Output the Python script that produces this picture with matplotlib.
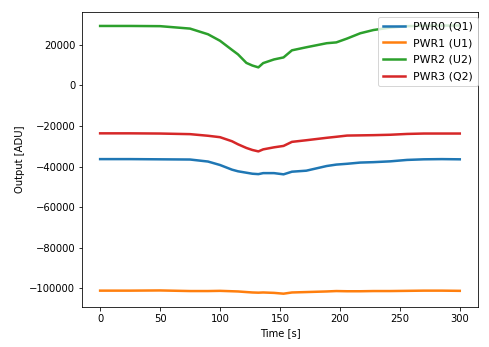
import matplotlib
matplotlib.use("Agg")
import matplotlib.pyplot as plt

# Sample times [s] and detector outputs [ADU]
time_s = [0, 25, 50, 75, 90, 100, 110, 115, 122, 127, 132, 136, 145, 153,
          160, 172, 189, 197, 206, 217, 228, 242, 256, 270, 285, 300]

pwr0_q1 = [-36300, -36300, -36400, -36500, -37500, -39200, -41500, -42300,
           -43000, -43500, -43700, -43200, -43200, -43800, -42500, -42000,
           -39700, -39000, -38600, -38000, -37800, -37400, -36700, -36400,
           -36300, -36400]
pwr1_u1 = [-101100, -101100, -101000, -101300, -101300, -101200, -101400,
           -101500, -101800, -102000, -102100, -102000, -102200, -102600,
           -102000, -101800, -101500, -101300, -101400, -101400, -101300,
           -101300, -101200, -101100, -101100, -101200]
pwr2_u2 = [29300, 29300, 29200, 28000, 25200, 22000, 17500, 15300, 11100,
           9800, 8900, 11000, 12800, 13800, 17300, 18800, 20800, 21200,
           23100, 25700, 27300, 28500, 29200, 29400, 29500, 29500]
pwr3_q2 = [-23600, -23600, -23700, -24000, -24800, -25500, -27500, -29000,
           -30800, -31800, -32500, -31500, -30500, -29800, -27800, -27000,
           -25800, -25300, -24700, -24600, -24500, -24300, -23900, -23700,
           -23700, -23700]

series = [("PWR0 (Q1)", pwr0_q1), ("PWR1 (U1)", pwr1_u1),
          ("PWR2 (U2)", pwr2_u2), ("PWR3 (Q2)", pwr3_q2)]

fig = plt.figure(figsize=(489 / 72, 347 / 72), dpi=72)
ax = fig.add_axes([0.168, 0.115, 0.809, 0.85])

for name, values in series:
    ax.plot(time_s, values, lw=2.5, label=name)

ax.set_xlabel("Time [s]")
ax.set_ylabel("Output [ADU]")

# legend pushed against the right spine
ax.legend(loc="upper right", bbox_to_anchor=(1.0, 0.983), borderaxespad=0,
          fontsize=11, labelspacing=0.6)

fig.savefig("out.png", dpi=72)
